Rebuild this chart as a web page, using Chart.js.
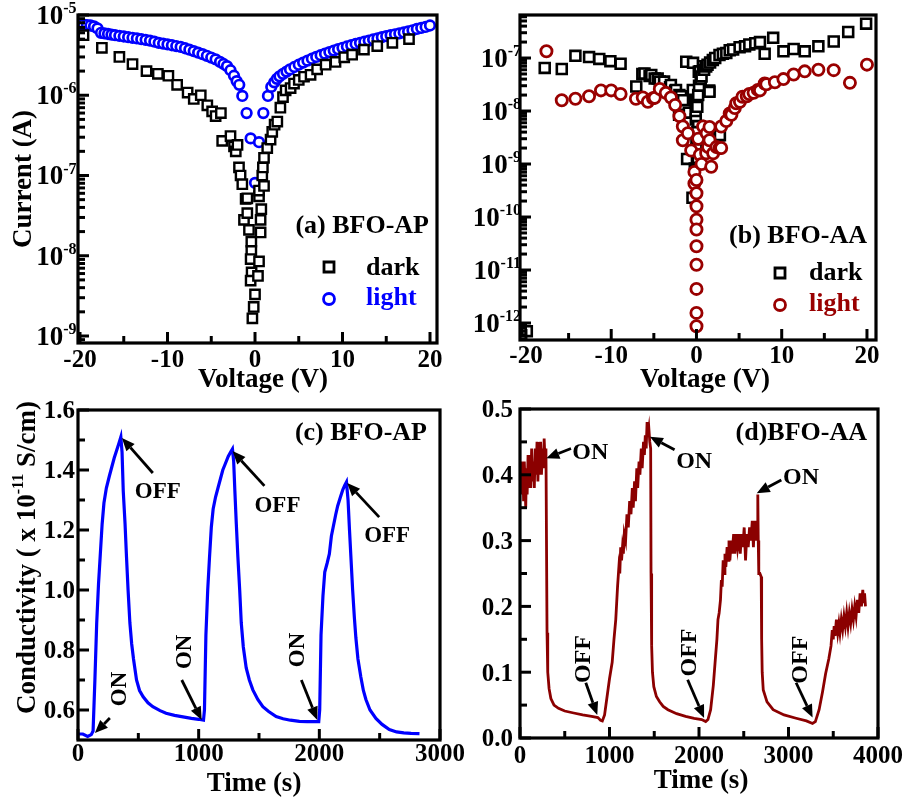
<!DOCTYPE html>
<html>
<head>
<meta charset="utf-8">
<title>BFO-AP / BFO-AA photoresponse</title>
<script src="https://cdn.jsdelivr.net/npm/chart.js@4.4.1/dist/chart.umd.min.js"></script>
<style>
  html, body { margin: 0; padding: 0; background: #fff; overflow: hidden; }
  #wrap { position: relative; width: 907px; height: 801px; }
  #wrap canvas { position: absolute; left: 0; top: 0; }
</style>
</head>
<body>
<div id="wrap">
  <canvas id="ivAP" width="907" height="801"></canvas>
  <canvas id="ivAA" width="907" height="801"></canvas>
  <canvas id="tAPc" width="907" height="801"></canvas>
  <canvas id="tAAc" width="907" height="801"></canvas>
</div>
<script>
// ---------- (a) BFO-AP current-voltage ----------
const apDarkV = [-19.6,-17.5,-15.5,-14.0,-12.4,-11.1,-9.9,-8.9,-7.7,-7.0,-6.2,-5.45,-4.9,-4.5,-3.9,-3.75,-2.8,-2.4,-2.2,-2.0,-1.83,-1.65,-1.45,-1.07,-0.88,-1.26,-0.88,-0.69,-0.42,-0.42,-0.5,-0.39,-0.5,-0.15,-0.3,0.0,0.34,0.46,0.64,0.64,0.72,0.46,0.46,1.03,0.83,0.9,1.03,1.4,1.78,1.97,2.24,2.55,2.9,3.2,3.5,4.07,4.46,5.0,5.6,6.35,7.1,8.07,9.2,10.2,11.1,12.45,13.97,15.7,17.6];
const apDarkI = [5.6e-6,3.9e-6,3.0e-6,2.45e-6,2.0e-6,1.85e-6,1.75e-6,1.35e-6,1.08e-6,9.0e-7,1.0e-6,7.5e-7,6.3e-7,5.5e-7,6.0e-7,2.7e-7,3.1e-7,2.3e-7,2.0e-7,2.4e-7,1.26e-7,1.0e-7,7.8e-8,5.1e-8,5.2e-8,2.8e-8,3.4e-8,2.1e-8,1.5e-8,1.15e-8,9.1e-9,6.2e-9,4.9e-9,2.3e-9,1.66e-9,3.3e-9,5.6e-9,8.5e-9,1.95e-8,2.8e-8,3.8e-8,5.5e-8,6.5e-8,7.4e-8,1.0e-7,1.26e-7,1.66e-7,2.2e-7,2.8e-7,3.5e-7,4.3e-7,4.7e-7,7.0e-7,9.5e-7,1.15e-6,1.23e-6,1.4e-6,1.55e-6,1.7e-6,1.8e-6,2.1e-6,2.4e-6,2.6e-6,2.97e-6,3.2e-6,3.7e-6,4.1e-6,4.5e-6,5.0e-6];
const apLightV = [-20.0,-19.6,-19.2,-18.8,-18.4,-18.0,-17.6,-17.2,-16.8,-16.4,-16.0,-15.5,-15.0,-14.5,-14.0,-13.5,-13.0,-12.5,-12.0,-11.5,-11.0,-10.5,-10.0,-9.5,-9.0,-8.5,-8.0,-7.5,-7.0,-6.5,-6.0,-5.5,-5.0,-4.5,-4.0,-3.6,-3.2,-2.8,-2.4,-2.1,-1.8,-1.45,-0.96,-0.5,0.0,0.46,0.95,1.48,1.86,2.2,2.5,2.8,3.2,3.6,4.0,4.5,5.0,5.5,6.0,6.5,7.0,7.5,8.0,8.5,9.0,9.5,10.0,10.5,11.0,11.5,12.0,12.5,13.0,13.5,14.0,14.5,15.0,15.5,16.0,16.5,17.0,17.5,18.0,18.5,19.0,19.5,20.0];
const apLightI = [7.6e-6,7.6e-6,7.5e-6,7.4e-6,7.2e-6,6.8e-6,6.0e-6,5.9e-6,5.8e-6,5.7e-6,5.6e-6,5.5e-6,5.4e-6,5.3e-6,5.2e-6,5.1e-6,5.0e-6,4.9e-6,4.8e-6,4.65e-6,4.5e-6,4.4e-6,4.3e-6,4.2e-6,4.1e-6,4.0e-6,3.85e-6,3.7e-6,3.55e-6,3.4e-6,3.25e-6,3.1e-6,2.95e-6,2.8e-6,2.6e-6,2.45e-6,2.3e-6,2.05e-6,1.75e-6,1.5e-6,1.35e-6,9.8e-7,6.0e-7,2.9e-7,8.1e-8,2.6e-7,6.0e-7,9.8e-7,1.27e-6,1.45e-6,1.6e-6,1.72e-6,1.85e-6,1.97e-6,2.1e-6,2.25e-6,2.4e-6,2.55e-6,2.7e-6,2.85e-6,3.0e-6,3.15e-6,3.3e-6,3.45e-6,3.6e-6,3.75e-6,3.9e-6,4.05e-6,4.2e-6,4.35e-6,4.5e-6,4.65e-6,4.8e-6,4.95e-6,5.1e-6,5.3e-6,5.45e-6,5.6e-6,5.75e-6,5.9e-6,6.05e-6,6.25e-6,6.45e-6,6.7e-6,6.9e-6,7.1e-6,7.4e-6];

// ---------- (b) BFO-AA current-voltage ----------
const aaDarkV = [-19.9,-17.8,-15.8,-14.2,-12.6,-11.4,-10.1,-8.9,-7.06,-6.35,-6.1,-5.5,-5.3,-4.9,-4.55,-4.3,-3.8,-3.1,-3.0,-2.5,-2.4,-2.0,-1.8,-1.57,-2.04,-0.9,-1.2,-0.4,-0.43,-0.2,-0.04,-0.08,0.0,0.0,-1.1,-0.2,-0.47,0.08,0.16,0.2,0.1,-0.1,0.1,0.2,0.3,0.5,0.27,0.4,0.6,0.78,0.9,1.14,1.3,1.5,1.53,1.6,1.92,2.2,2.6,2.75,2.7,3.1,3.5,3.9,4.3,5.06,5.7,6.2,6.9,7.45,8.0,9.0,10.2,11.4,12.7,14.3,16.1,17.8,19.9];
const aaDarkI = [7e-13,6.5e-8,6.2e-8,1.1e-7,1.04e-7,9.6e-8,8.7e-8,7.8e-8,2.9e-8,5.0e-8,5.1e-8,4.6e-8,4.8e-8,4.1e-8,4.1e-8,3.6e-8,3.6e-8,2.8e-8,3.1e-8,2.4e-8,2.5e-8,2.0e-8,1.9e-8,1.6e-8,8.5e-9,9.3e-9,8.5e-8,8.1e-8,2.5e-8,1.6e-8,1.5e-8,6.9e-9,3.1e-9,1.9e-9,1.25e-9,8.2e-10,2.3e-10,1.2e-9,1.3e-9,5.2e-9,4e-9,1e-8,1.2e-8,2e-8,3e-8,4e-8,5.5e-8,5.6e-8,4.5e-8,7.0e-8,6e-8,6.9e-8,7.5e-8,2.45e-8,2.3e-8,8.2e-8,9.2e-8,1.0e-7,3.5e-9,3.5e-9,1.14e-7,1.2e-7,1.24e-7,1.4e-7,1.44e-7,1.6e-7,1.66e-7,1.8e-7,1.9e-7,2.0e-7,1.2e-7,2.4e-7,1.34e-7,1.48e-7,1.34e-7,1.66e-7,2.05e-7,3.1e-7,4.45e-7];
const aaLightV = [-17.6,-15.8,-14.2,-12.6,-11.2,-10.0,-8.9,-7.1,-6.3,-5.7,-5.1,-4.9,-4.3,-3.6,-3.0,-2.5,-2.0,-1.6,-1.6,-1.0,-0.62,-0.24,-0.24,0,0,0,0,0,0,0,0,0,0,0.2,0.4,0.6,0.78,1.14,1.2,1.37,1.53,1.53,1.73,1.96,2.35,2.7,2.9,2.9,3.5,3.9,4.1,4.5,4.67,5.1,5.4,5.9,6.2,6.7,7.2,7.45,8.0,8.2,9.2,10.2,11.4,12.7,14.3,16.1,18.0,20.0];
const aaLightI = [1.34e-7,1.6e-8,1.7e-8,1.9e-8,2.45e-8,2.45e-8,2.1e-8,1.7e-8,1.8e-8,1.5e-8,1.74e-8,1.77e-8,2.6e-8,2.2e-8,1.8e-8,1.3e-8,8e-9,5.1e-9,2.8e-9,3.8e-9,1.8e-9,7.1e-10,4.3e-10,5e-10,2.8e-10,1.6e-10,8.9e-11,5.8e-11,2.8e-11,1.26e-11,4.4e-12,1.55e-12,8.7e-13,3e-9,1.5e-9,1e-9,5.1e-9,1.6e-9,3.8e-9,2.1e-9,5e-9,2.8e-9,8.9e-10,1.6e-9,2.1e-9,2e-9,2e-9,5.1e-9,6.5e-9,9e-9,8.5e-9,1.14e-8,1.4e-8,1.5e-8,1.86e-8,1.9e-8,2.1e-8,2.2e-8,2.5e-8,2.45e-8,3.3e-8,3.2e-8,3.5e-8,4.0e-8,4.9e-8,5.6e-8,6.0e-8,5.9e-8,3.4e-8,7.5e-8];

// ---------- (c) BFO-AP conductivity transient ----------
const tAP = [0,40,80,110,125,140,155,170,185,200,215,235,260,280,300,320,340,355,365,375,390,402,415,430,445,460,485,510,540,580,620,680,730,800,870,940,1000,1040,
  1048,1060,1075,1090,1105,1120,1140,1160,1180,1200,1220,1245,1265,1280,1290,1300,1312,1325,1340,1353,1370,1394,1420,1449,1490,1532,1580,1642,1700,1760,1835,1900,1960,1995,
  2003,2014,2030,2045,2065,2083,2100,2115,2135,2152,2175,2195,2212,2225,2238,2250,2263,2276,2290,2303,2320,2344,2365,2386,2420,2469,2520,2580,2640,2700,2760,2830];
const sigAP = [0.52,0.52,0.512,0.518,0.53,0.70,0.89,1.02,1.12,1.22,1.29,1.34,1.38,1.41,1.44,1.465,1.49,1.51,1.46,1.33,1.22,1.11,1.00,0.89,0.82,0.77,0.70,0.665,0.644,0.624,0.611,0.598,0.589,0.582,0.577,0.572,0.569,0.566,
  0.60,0.85,1.00,1.11,1.21,1.27,1.31,1.34,1.37,1.40,1.42,1.445,1.46,1.47,1.43,1.33,1.22,1.11,1.00,0.89,0.81,0.74,0.70,0.667,0.635,0.611,0.595,0.578,0.571,0.566,0.562,0.561,0.561,0.561,
  0.60,0.85,0.98,1.06,1.09,1.12,1.18,1.21,1.25,1.28,1.31,1.335,1.35,1.36,1.30,1.20,1.10,1.00,0.91,0.84,0.77,0.71,0.665,0.635,0.60,0.572,0.552,0.535,0.527,0.524,0.522,0.521];

// ---------- (d) BFO-AA conductivity transient ----------
const tAA = [0,8,16,24,32,40,48,56,64,72,80,90,100,110,120,130,140,150,160,170,180,190,200,210,220,230,240,250,260,270,280,290,
  296,302,310,325,345,380,430,500,600,700,800,870,900,920,
  945,970,1000,1030,1050,1070,1090,1105,1115,1125,1135,1145,1155,1165,1180,1195,1210,1225,1240,1255,1265,1280,1290,1305,1315,1330,1340,1355,1365,1380,1390,1400,1410,1420,1430,1440,1450,1460,
  1464,1468,1474,1480,1495,1524,1560,1600,1653,1750,1850,1946,2030,2075,
  2100,2130,2160,2185,2200,2212,2225,2240,2250,2259,2270,2280,2290,2300,2314,2325,2335,2345,2360,2370,2387,2400,2415,2430,2445,2461,2475,2490,2505,2520,2534,2550,2565,2580,2595,2608,2620,2632,2645,2652,2657,2662,2668,2680,2695,
  2700,2706,2718,2760,2828,2950,3085,3200,3268,
  3300,3342,3380,3415,3450,3475,3489,3500,3510,3520,3535,3550,3563,3575,3590,3605,3620,3635,3650,3665,3680,3695,3710,3725,3740,3755,3770,3785,3800,3815,3830,3840,3850,3860];
const sigAA = [0.40,0.37,0.42,0.38,0.41,0.36,0.42,0.39,0.35,0.41,0.37,0.43,0.38,0.42,0.38,0.44,0.39,0.42,0.38,0.44,0.40,0.45,0.39,0.44,0.40,0.45,0.40,0.44,0.41,0.455,0.42,0.44,
  0.30,0.16,0.10,0.075,0.06,0.05,0.045,0.041,0.038,0.035,0.033,0.031,0.027,0.026,
  0.035,0.06,0.09,0.115,0.15,0.18,0.23,0.26,0.25,0.29,0.27,0.29,0.28,0.31,0.30,0.34,0.32,0.36,0.34,0.38,0.35,0.39,0.36,0.41,0.38,0.42,0.40,0.44,0.41,0.45,0.43,0.46,0.44,0.48,0.46,0.47,0.45,0.44,
  0.25,0.24,0.14,0.10,0.078,0.063,0.055,0.048,0.043,0.037,0.033,0.030,0.028,0.025,
  0.028,0.043,0.08,0.124,0.15,0.18,0.19,0.21,0.24,0.23,0.27,0.25,0.28,0.26,0.29,0.27,0.30,0.27,0.30,0.28,0.31,0.28,0.31,0.29,0.31,0.28,0.31,0.29,0.32,0.27,0.31,0.29,0.32,0.30,0.33,0.29,0.33,0.30,0.33,0.31,0.37,0.30,0.25,0.25,0.245,
  0.15,0.10,0.073,0.055,0.043,0.035,0.030,0.026,0.022,
  0.025,0.043,0.07,0.098,0.12,0.14,0.164,0.15,0.17,0.155,0.18,0.16,0.174,0.16,0.18,0.165,0.185,0.17,0.19,0.17,0.19,0.175,0.195,0.18,0.20,0.185,0.21,0.19,0.22,0.20,0.225,0.205,0.22,0.20];

// ---------- tick values ----------
const voltTicks = [-20, -10, 0, 10, 20];
const voltMinor = [-15, -5, 5, 15];
const apDecades = [-9, -8, -7, -6, -5];
const aaDecades = [-12, -11, -10, -9, -8, -7];
const timeTicksAP = [0, 1000, 2000, 3000];
const timeMinorAP = [500, 1500, 2500];
const timeTicksAA = [0, 1000, 2000, 3000, 4000];
const timeMinorAA = [500, 1500, 2500, 3500];
const sigTicksAP = [0.6, 0.8, 1.0, 1.2, 1.4, 1.6];
const sigMinorAP = [0.7, 0.9, 1.1, 1.3, 1.5];
const sigTicksAA = [0.0, 0.1, 0.2, 0.3, 0.4, 0.5];
const sigMinorAA = [0.05, 0.15, 0.25, 0.35, 0.45];

// ---------- page geometry ----------
const SERIF = '"Liberation Serif", "Times New Roman", Times, serif';
const PAGE_W = 907, PAGE_H = 801, AXIS_W = 40, AXIS_H = 30;
const BLUE = '#0000ff', DARKRED = '#990000', LINE_RED = '#8b0000';
const MAJOR_LEN = 11, MINOR_LEN = 7;

const pts = (xs, ys) => xs.map((x, i) => ({ x, y: ys[i] }));
const decadeValues = exps => exps.map(e => Math.pow(10, e));
function logMinor(exps, lo, hi) {
  const out = [];
  for (let e = exps[0] - 1; e <= exps[exps.length - 1]; e++) {
    for (let k = 2; k <= 9; k++) {
      const v = k * Math.pow(10, e);
      if (v > lo && v < hi) out.push(v);
    }
  }
  return out;
}

function layoutFor(box) {
  return { padding: { left: box.l - AXIS_W, top: box.t, right: PAGE_W - box.r, bottom: PAGE_H - box.b - AXIS_H } };
}

function tickFont(size) { return { family: SERIF, size, weight: 'bold' }; }

function linearX(min, max, ticks, pad) {
  return {
    type: 'linear', min, max,
    afterBuildTicks: s => { s.ticks = ticks.map(v => ({ value: v })); },
    afterFit: s => { s.height = AXIS_H; },
    grid: { display: false, drawTicks: false },
    border: { display: false },
    ticks: { autoSkip: false, maxRotation: 0, padding: pad, color: '#000', font: tickFont(25), callback: v => String(v) }
  };
}
function linearY(min, max, ticks, pad) {
  return {
    type: 'linear', min, max,
    afterBuildTicks: s => { s.ticks = ticks.map(v => ({ value: v })); },
    afterFit: s => { s.width = AXIS_W; },
    grid: { display: false, drawTicks: false },
    border: { display: false },
    ticks: { autoSkip: false, padding: pad, labelOffset: 2, color: '#000', font: tickFont(25), callback: v => v.toFixed(1) }
  };
}
function logY(min, max) {
  return {
    type: 'logarithmic', min, max,
    afterFit: s => { s.width = AXIS_W; },
    grid: { display: false, drawTicks: false },
    border: { display: false },
    ticks: { display: false }
  };
}

// ---------- text + arrow helpers ----------
function rich(ctx, parts, x, y, rot, align, color) {
  if (typeof parts === 'string') parts = [{ t: parts, size: 27 }];
  let total = 0;
  const ws = parts.map(p => { ctx.font = `bold ${p.size}px ${SERIF}`; const w = ctx.measureText(p.t).width; total += w; return w; });
  ctx.save();
  ctx.translate(x, y);
  if (rot) ctx.rotate(rot);
  ctx.fillStyle = color || '#000';
  ctx.textBaseline = 'middle';
  ctx.textAlign = 'left';
  let cx = align === 'left' ? 0 : align === 'right' ? -total : -total / 2;
  parts.forEach((p, i) => { ctx.font = `bold ${p.size}px ${SERIF}`; ctx.fillText(p.t, cx, p.dy || 0); cx += ws[i]; });
  ctx.restore();
}
function arrow(ctx, x1, y1, x2, y2) {
  const a = Math.atan2(y2 - y1, x2 - x1), hl = 13, hw = 5.5;
  const bx = x2 - hl * Math.cos(a), by = y2 - hl * Math.sin(a);
  ctx.strokeStyle = '#000'; ctx.fillStyle = '#000'; ctx.lineWidth = 2.8;
  ctx.beginPath(); ctx.moveTo(x1, y1); ctx.lineTo(bx, by); ctx.stroke();
  ctx.beginPath(); ctx.moveTo(x2, y2);
  ctx.lineTo(bx + hw * Math.sin(a), by - hw * Math.cos(a));
  ctx.lineTo(bx - hw * Math.sin(a), by + hw * Math.cos(a));
  ctx.closePath(); ctx.fill();
}

// per-panel decorations: inward ticks, frame, decade labels, titles, captions, legends, ON/OFF notes
const DECOR = {
  ivAP: {
    xMajor: voltTicks, xMinor: voltMinor,
    yMajor: decadeValues(apDecades), yMinor: logMinor(apDecades, 8.18e-10, 1e-5),
    logExps: apDecades, logRight: -1.5,
    xTitle: 'Voltage (V)', xTitleAt: [185, 37.5],
    yTitle: 'Current (A)', yTitleAt: [-54, 164],
    caption: { t: '(a) BFO-AP', x: 351, y: 211 },
    legend: [
      { shape: 'rect', color: '#000', x: 251, y: 252, text: 'dark', tx: 288, ty: 253 },
      { shape: 'circle', color: BLUE, x: 251, y: 284, text: 'light', tx: 288, ty: 283 }
    ]
  },
  ivAA: {
    xMajor: voltTicks, xMinor: voltMinor,
    yMajor: decadeValues(aaDecades), yMinor: logMinor(aaDecades, 4.78e-13, 6.48e-7),
    logExps: aaDecades, logRight: 1,
    xTitle: 'Voltage (V)', xTitleAt: [185, 40.5],
    caption: { t: '(b) BFO-AA', x: 347, y: 221 },
    legend: [
      { shape: 'rect', color: '#000', x: 260, y: 258, text: 'dark', tx: 289, ty: 258 },
      { shape: 'circle', color: DARKRED, x: 260, y: 290, text: 'light', tx: 289, ty: 289 }
    ]
  },
  tAPc: {
    xMajor: timeTicksAP, xMinor: timeMinorAP, yMajor: sigTicksAP, yMinor: sigMinorAP,
    xTitle: 'Time (s)', xTitleAt: [176, 44],
    yTitle: [{ t: 'Conductivity ( x 10', size: 27 }, { t: '-11', size: 16, dy: -9 }, { t: ' S/cm)', size: 27 }],
    yTitleAt: [-50, 147.5],
    caption: { t: '(c) BFO-AP', x: 349, y: 23 },
    notes: [
      { t: 'OFF', at: [661, 1.325], size: 23, arrow: [[620, 1.39], [364, 1.507]] },
      { t: 'OFF', at: [1653, 1.28], size: 23, arrow: [[1545, 1.347], [1281, 1.463]] },
      { t: 'OFF', at: [2562, 1.18], size: 23, arrow: [[2496, 1.243], [2231, 1.357]] },
      { t: 'ON', at: [351, 0.67], size: 23, rot: true, arrow: [[264, 0.573], [140, 0.523]] },
      { t: 'ON', at: [888, 0.794], size: 23, rot: true, arrow: [[860, 0.70], [1025, 0.567]] },
      { t: 'ON', at: [1826, 0.80], size: 23, rot: true, arrow: [[1851, 0.70], [1983, 0.567]] }
    ]
  },
  tAAc: {
    xMajor: timeTicksAA, xMinor: timeMinorAA, yMajor: sigTicksAA, yMinor: sigMinorAA,
    xTitle: 'Time (s)', xTitleAt: [181, 43],
    caption: { t: '(d)BFO-AA', x: 347, y: 24 },
    notes: [
      { t: 'ON', at: [584, 0.433], size: 24, align: 'left', arrow: [[570, 0.44], [294, 0.425]] },
      { t: 'ON', at: [1745, 0.42], size: 24, align: 'left', arrow: [[1727, 0.438], [1451, 0.458]] },
      { t: 'ON', at: [2939, 0.395], size: 24, align: 'left', arrow: [[2920, 0.392], [2645, 0.372]] },
      { t: 'OFF', at: [716, 0.12], size: 24, rot: true, arrow: [[735, 0.084], [863, 0.035]] },
      { t: 'OFF', at: [1893, 0.13], size: 24, rot: true, arrow: [[1873, 0.0886], [2057, 0.0304]] },
      { t: 'OFF', at: [3140, 0.119], size: 24, rot: true, arrow: [[3085, 0.084], [3269, 0.031]] }
    ]
  }
};

const decorPlugin = {
  id: 'decor',
  afterDraw(chart) {
    const d = DECOR[chart.canvas.id];
    if (!d) return;
    const ctx = chart.ctx, ca = chart.chartArea, xs = chart.scales.x, ys = chart.scales.y;
    ctx.save();
    ctx.strokeStyle = '#000';
    ctx.lineWidth = 3;
    ctx.lineCap = 'butt';
    const tickX = (vals, len) => vals.forEach(v => {
      const p = xs.getPixelForValue(v);
      ctx.beginPath(); ctx.moveTo(p, ca.bottom); ctx.lineTo(p, ca.bottom - len); ctx.stroke();
    });
    const tickY = (vals, len) => vals.forEach(v => {
      const p = ys.getPixelForValue(v);
      ctx.beginPath(); ctx.moveTo(ca.left, p); ctx.lineTo(ca.left + len, p); ctx.stroke();
    });
    tickX(d.xMajor, MAJOR_LEN); tickX(d.xMinor, MINOR_LEN);
    tickY(d.yMajor, MAJOR_LEN); tickY(d.yMinor, MINOR_LEN);
    ctx.lineWidth = 3.2;
    ctx.strokeRect(ca.left, ca.top, ca.right - ca.left, ca.bottom - ca.top);

    // decade labels 10^n
    if (d.logExps) {
      ctx.fillStyle = '#000';
      ctx.textBaseline = 'middle';
      ctx.textAlign = 'left';
      d.logExps.forEach(e => {
        const py = ys.getPixelForValue(Math.pow(10, e));
        const sup = '-' + Math.abs(e);
        ctx.font = `bold 27px ${SERIF}`; const w1 = ctx.measureText('10').width;
        ctx.font = `bold 16px ${SERIF}`; const w2 = ctx.measureText(sup).width;
        const rx = ca.left + d.logRight;
        ctx.font = `bold 27px ${SERIF}`; ctx.fillText('10', rx - w1 - w2, py + 2);
        ctx.font = `bold 16px ${SERIF}`; ctx.fillText(sup, rx - w2, py - 6);
      });
    }

    // axis titles
    if (d.xTitle) rich(ctx, d.xTitle, ca.left + d.xTitleAt[0], ca.bottom + d.xTitleAt[1], 0, 'center');
    if (d.yTitle) rich(ctx, d.yTitle, ca.left + d.yTitleAt[0], ca.top + d.yTitleAt[1], -Math.PI / 2, 'center');

    // panel caption
    if (d.caption) rich(ctx, [{ t: d.caption.t, size: 26 }], ca.left + d.caption.x, ca.top + d.caption.y, 0, 'right');

    // legend
    (d.legend || []).forEach(it => {
      const x = ca.left + it.x, y = ca.top + it.y;
      ctx.strokeStyle = it.color;
      ctx.fillStyle = '#fff';
      ctx.lineWidth = 2.8;
      ctx.beginPath();
      if (it.shape === 'rect') ctx.rect(x - 5, y - 5, 10, 10);
      else ctx.arc(x, y, 5.5, 0, Math.PI * 2);
      ctx.fill(); ctx.stroke();
      rich(ctx, [{ t: it.text, size: 26 }], ca.left + it.tx, ca.top + it.ty, 0, 'left', it.color);
    });

    // ON / OFF notes placed in data units
    (d.notes || []).forEach(n => {
      const [p, q] = n.arrow;
      arrow(ctx, xs.getPixelForValue(p[0]), ys.getPixelForValue(p[1]), xs.getPixelForValue(q[0]), ys.getPixelForValue(q[1]));
      rich(ctx, [{ t: n.t, size: n.size }], xs.getPixelForValue(n.at[0]), ys.getPixelForValue(n.at[1]),
        n.rot ? -Math.PI / 2 : 0, n.align || 'center');
    });
    ctx.restore();
  }
};

const baseOptions = box => ({
  responsive: false,
  maintainAspectRatio: false,
  animation: false,
  events: [],
  devicePixelRatio: 1,
  layout: layoutFor(box),
  plugins: { legend: { display: false }, tooltip: { enabled: false } }
});

function scatterSet(data, style, color, radius, width) {
  return { data, pointStyle: style, pointRadius: radius, pointBorderWidth: width, borderColor: color, backgroundColor: '#fff', showLine: false };
}
function lineSet(data, color, width) {
  return { data, showLine: true, borderColor: color, borderWidth: width, pointRadius: 0, tension: 0, fill: false };
}

// (a)
const boxA = { l: 78, t: 15, r: 437, b: 343 };
new Chart(document.getElementById('ivAP'), {
  type: 'scatter',
  data: { datasets: [
    scatterSet(pts(apDarkV, apDarkI), 'rect', '#000', 6.6, 2.4),
    scatterSet(pts(apLightV, apLightI), 'circle', BLUE, 4.8, 2.7)
  ] },
  options: Object.assign(baseOptions(boxA), {
    scales: { x: linearX(-20.23, 20.8, voltTicks, 3), y: logY(8.18e-10, 1e-5) }
  }),
  plugins: [decorPlugin]
});

// (b)
const boxB = { l: 520, t: 15, r: 876, b: 340 };
new Chart(document.getElementById('ivAA'), {
  type: 'scatter',
  data: { datasets: [
    scatterSet(pts(aaLightV, aaLightI), 'circle', DARKRED, 5.6, 2.8),
    scatterSet(pts(aaDarkV, aaDarkI), 'rect', '#000', 7, 2.6)
  ] },
  options: Object.assign(baseOptions(boxB), {
    scales: { x: linearX(-20.7, 21.06, voltTicks, 2), y: logY(4.78e-13, 6.48e-7) }
  }),
  plugins: [decorPlugin]
});

// (c)
const boxC = { l: 78, t: 410, r: 440, b: 740 };
new Chart(document.getElementById('tAPc'), {
  type: 'scatter',
  data: { datasets: [ lineSet(pts(tAP, sigAP), BLUE, 3.2) ] },
  options: Object.assign(baseOptions(boxC), {
    scales: { x: linearX(0, 3000, timeTicksAP, 0), y: linearY(0.5, 1.6, sigTicksAP, 3) }
  }),
  plugins: [decorPlugin]
});

// (d)
const boxD = { l: 520, t: 409, r: 882, b: 738 };
new Chart(document.getElementById('tAAc'), {
  type: 'scatter',
  data: { datasets: [ lineSet(pts(tAA, sigAA), LINE_RED, 2.8) ] },
  options: Object.assign(baseOptions(boxD), {
    scales: { x: linearX(0, 4000, timeTicksAA, 4), y: linearY(0, 0.5, sigTicksAA, 7) }
  }),
  plugins: [decorPlugin]
});
</script>
</body>
</html>
